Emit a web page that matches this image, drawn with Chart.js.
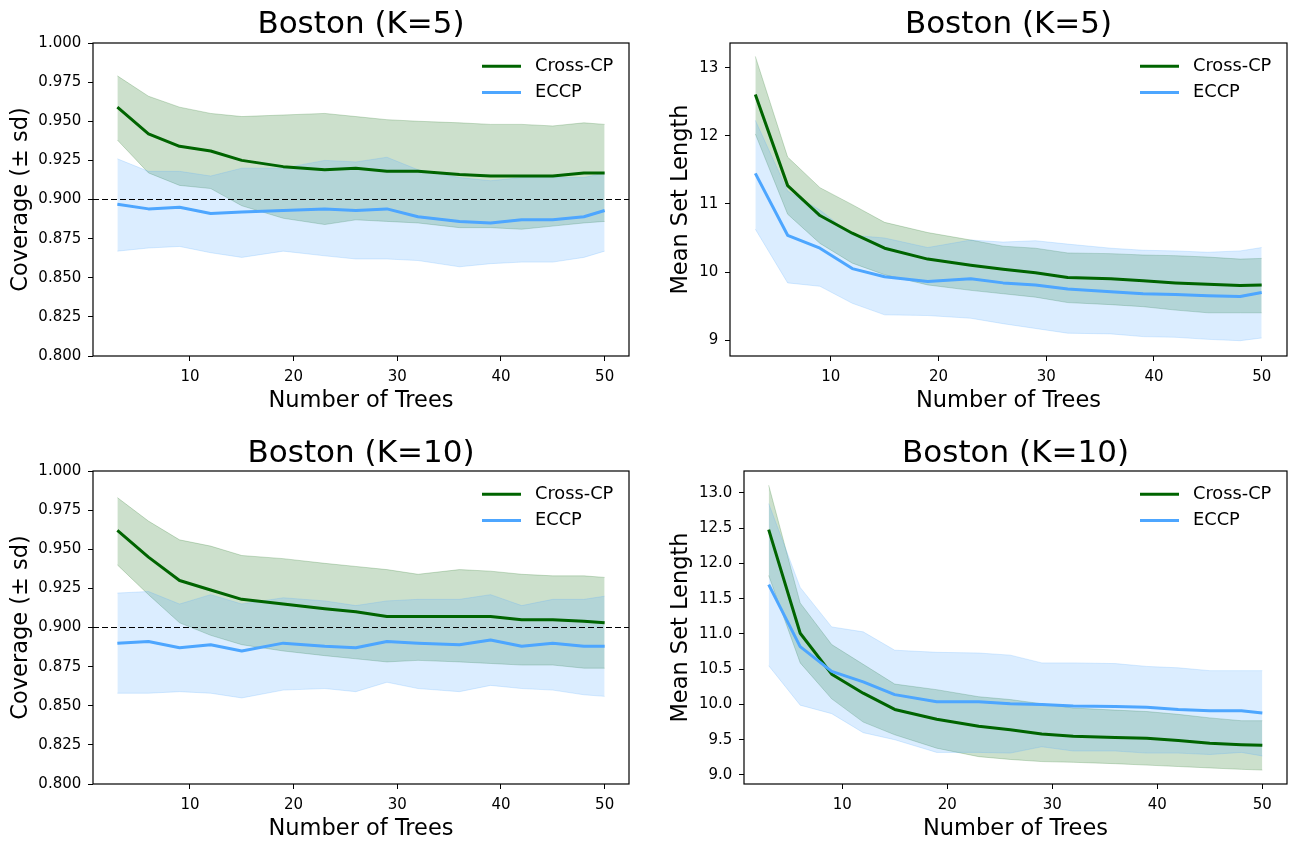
<!DOCTYPE html>
<html>
<head>
<meta charset="utf-8">
<script src="https://cdn.jsdelivr.net/npm/chart.js@4.4.0/dist/chart.umd.min.js"></script>
<style>
  html, body { margin: 0; padding: 0; background: #fff; overflow: hidden; }
  #fig { position: relative; width: 1291px; height: 841px; }
  #fig canvas { position: absolute; }
</style>
</head>
<body>
<div id="fig">
  <canvas id="k5cov" width="645" height="420" style="left:0;top:0"></canvas>
  <canvas id="k5len" width="646" height="420" style="left:645px;top:0"></canvas>
  <canvas id="k10cov" width="645" height="421" style="left:0;top:420px"></canvas>
  <canvas id="k10len" width="646" height="421" style="left:645px;top:420px"></canvas>
</div>
<script>
// number of trees in the forest
const trees = [3, 6, 9, 12, 15, 19, 23, 26, 29, 32, 36, 39, 42, 45, 48, 50];
const xTicks = [10, 20, 30, 40, 50];
const coverageTicks = [0.8, 0.825, 0.85, 0.875, 0.9, 0.925, 0.95, 0.975, 1.0];
const lengthTicksK5 = [9, 10, 11, 12, 13];
const lengthTicksK10 = [9.0, 9.5, 10.0, 10.5, 11.0, 11.5, 12.0, 12.5, 13.0];
const targetCoverage = 0.9;

// K=5 coverage (mean, mean - sd, mean + sd)
const k5CovCross = [0.959, 0.942, 0.934, 0.931, 0.925, 0.921, 0.919, 0.920, 0.918, 0.918, 0.916, 0.915, 0.915, 0.915, 0.917, 0.917];
const k5CovCrossLo = [0.938, 0.917, 0.909, 0.907, 0.896, 0.888, 0.884, 0.887, 0.886, 0.885, 0.882, 0.882, 0.881, 0.883, 0.885, 0.886];
const k5CovCrossHi = [0.979, 0.966, 0.959, 0.955, 0.953, 0.954, 0.955, 0.953, 0.951, 0.950, 0.949, 0.948, 0.948, 0.947, 0.949, 0.948];
const k5CovEccp = [0.897, 0.894, 0.895, 0.891, 0.892, 0.893, 0.894, 0.893, 0.894, 0.889, 0.886, 0.885, 0.887, 0.887, 0.889, 0.893];
const k5CovEccpLo = [0.867, 0.869, 0.870, 0.866, 0.863, 0.867, 0.864, 0.862, 0.862, 0.861, 0.857, 0.859, 0.860, 0.860, 0.863, 0.867];
const k5CovEccpHi = [0.926, 0.918, 0.918, 0.915, 0.920, 0.920, 0.925, 0.924, 0.927, 0.919, 0.914, 0.912, 0.914, 0.914, 0.914, 0.917];

// K=5 mean set length
const k5LenCross = [12.61, 11.27, 10.83, 10.57, 10.35, 10.19, 10.10, 10.04, 9.99, 9.92, 9.90, 9.87, 9.84, 9.82, 9.80, 9.81];
const k5LenCrossLo = [12.03, 10.85, 10.42, 10.13, 9.96, 9.81, 9.73, 9.68, 9.63, 9.55, 9.52, 9.49, 9.44, 9.40, 9.40, 9.40];
const k5LenCrossHi = [13.17, 11.69, 11.24, 10.99, 10.73, 10.58, 10.47, 10.38, 10.35, 10.28, 10.27, 10.25, 10.24, 10.22, 10.19, 10.20];
const k5LenEccp = [11.45, 10.54, 10.35, 10.05, 9.93, 9.86, 9.90, 9.84, 9.81, 9.75, 9.71, 9.68, 9.67, 9.65, 9.64, 9.70];
const k5LenEccpLo = [10.63, 9.84, 9.79, 9.54, 9.37, 9.36, 9.32, 9.24, 9.17, 9.10, 9.09, 9.05, 9.04, 9.01, 8.99, 9.03];
const k5LenEccpHi = [12.23, 11.19, 10.91, 10.54, 10.50, 10.36, 10.47, 10.44, 10.46, 10.41, 10.35, 10.32, 10.31, 10.29, 10.31, 10.36];

// K=10 coverage
const k10CovCross = [0.962, 0.945, 0.930, 0.924, 0.918, 0.915, 0.912, 0.910, 0.907, 0.907, 0.907, 0.907, 0.905, 0.905, 0.904, 0.903];
const k10CovCrossLo = [0.940, 0.921, 0.903, 0.895, 0.889, 0.885, 0.882, 0.880, 0.878, 0.879, 0.878, 0.877, 0.876, 0.876, 0.874, 0.874];
const k10CovCrossHi = [0.983, 0.968, 0.956, 0.952, 0.946, 0.944, 0.941, 0.939, 0.937, 0.934, 0.937, 0.936, 0.934, 0.933, 0.933, 0.932];
const k10CovEccp = [0.890, 0.891, 0.887, 0.889, 0.885, 0.890, 0.888, 0.887, 0.891, 0.890, 0.889, 0.892, 0.888, 0.890, 0.888, 0.888];
const k10CovEccpLo = [0.858, 0.858, 0.859, 0.858, 0.855, 0.860, 0.861, 0.859, 0.865, 0.861, 0.859, 0.863, 0.861, 0.860, 0.857, 0.856];
const k10CovEccpHi = [0.922, 0.923, 0.915, 0.921, 0.915, 0.919, 0.917, 0.914, 0.917, 0.918, 0.918, 0.921, 0.914, 0.918, 0.918, 0.920];

// K=10 mean set length
const k10LenCross = [12.48, 11.01, 10.43, 10.16, 9.93, 9.79, 9.69, 9.64, 9.58, 9.55, 9.53, 9.52, 9.49, 9.45, 9.43, 9.42];
const k10LenCrossLo = [11.83, 10.59, 10.08, 9.75, 9.57, 9.38, 9.26, 9.22, 9.19, 9.18, 9.16, 9.14, 9.12, 9.10, 9.08, 9.07];
const k10LenCrossHi = [13.11, 11.44, 10.85, 10.57, 10.29, 10.21, 10.11, 10.07, 10.01, 9.95, 9.92, 9.90, 9.86, 9.81, 9.77, 9.77];
const k10LenEccp = [11.70, 10.82, 10.47, 10.32, 10.14, 10.04, 10.04, 10.01, 10.00, 9.98, 9.97, 9.96, 9.93, 9.91, 9.91, 9.88];
const k10LenEccpLo = [10.55, 9.99, 9.87, 9.60, 9.50, 9.32, 9.32, 9.31, 9.40, 9.34, 9.34, 9.31, 9.31, 9.29, 9.32, 9.27];
const k10LenEccpHi = [12.85, 11.66, 11.10, 11.03, 10.77, 10.74, 10.73, 10.70, 10.59, 10.59, 10.58, 10.54, 10.52, 10.48, 10.48, 10.48];

const GREEN = '#006400';
const GREEN_FILL = 'rgba(0, 100, 0, 0.2)';
const BLUE = 'rgb(77, 166, 255)';
const BLUE_FILL = 'rgba(77, 166, 255, 0.2)';
const X_MIN = 0.65, X_MAX = 52.35;

Chart.defaults.font.family = "'DejaVu Sans', sans-serif";
Chart.defaults.color = '#000';

const pts = arr => trees.map((t, i) => ({ x: t, y: arr[i] }));

// legend drawn inside the upper right corner of the axes
const insideLegend = {
  id: 'insideLegend',
  afterDatasetsDraw(chart) {
    const { ctx, chartArea } = chart;
    const items = chart.data.datasets.filter(d => d.label);
    ctx.save();
    ctx.font = '17.8px "DejaVu Sans"';
    ctx.textBaseline = 'middle';
    ctx.textAlign = 'left';
    ctx.fillStyle = '#000';
    items.forEach((d, i) => {
      const y = chartArea.top + 23.3 + i * 26.3;
      ctx.strokeStyle = d.borderColor;
      ctx.lineWidth = d.borderWidth;
      ctx.beginPath();
      ctx.moveTo(chartArea.right - 147, y);
      ctx.lineTo(chartArea.right - 108, y);
      ctx.stroke();
      ctx.fillText(d.label, chartArea.right - 94, y);
    });
    ctx.restore();
  }
};

// box around the axes
const frame = {
  id: 'frame',
  afterDraw(chart) {
    const { ctx, chartArea: a } = chart;
    ctx.save();
    ctx.strokeStyle = '#000';
    ctx.lineWidth = 1.2;
    ctx.strokeRect(a.left, a.top, a.right - a.left, a.bottom - a.top);
    ctx.restore();
  }
};

function band(lo, hi, color, order) {
  return [
    { data: pts(hi), borderColor: color, backgroundColor: color, borderWidth: 1, fill: '+1', pointRadius: 0, order },
    { data: pts(lo), borderColor: color, borderWidth: 1, fill: false, pointRadius: 0, order }
  ];
}

function meanLine(label, values, color, order) {
  return { label, data: pts(values), borderColor: color, borderWidth: 3, borderJoinStyle: 'round',
           fill: false, pointRadius: 0, order };
}

function makePanel(id, p) {
  const datasets = [
    ...band(p.crossLo, p.crossHi, GREEN_FILL, 6),
    ...band(p.eccpLo, p.eccpHi, BLUE_FILL, 5),
    meanLine('Cross-CP', p.cross, GREEN, 3),
    meanLine('ECCP', p.eccp, BLUE, 2)
  ];
  if (p.target !== undefined) {
    datasets.push({ data: [{ x: X_MIN, y: p.target }, { x: X_MAX, y: p.target }], borderColor: '#000',
                    borderWidth: 1.2, borderDash: [6, 3], fill: false, pointRadius: 0, order: 1 });
  }
  const tickGrid = { drawOnChartArea: false, tickLength: 5, color: '#000', lineWidth: 1 };
  return new Chart(document.getElementById(id), {
    type: 'line',
    data: { datasets },
    options: {
      responsive: false,
      animation: false,
      devicePixelRatio: 1,
      events: [],
      layout: { padding: { left: 0, top: 0, right: p.padRight, bottom: 0 } },
      plugins: {
        legend: { display: false },
        tooltip: { enabled: false },
        title: {
          display: true, text: p.title, fullSize: false, color: '#000',
          font: { size: 31, weight: 'normal', lineHeight: 1.1 },
          padding: p.titlePad
        }
      },
      scales: {
        x: {
          type: 'linear', min: X_MIN, max: X_MAX,
          afterBuildTicks: s => { s.ticks = xTicks.map(v => ({ value: v })); },
          afterFit: s => { s.height = p.xAxisHeight; },
          grid: tickGrid,
          border: { display: false },
          ticks: { font: { size: 15 }, padding: 7, maxRotation: 0, autoSkip: false, callback: v => String(v) },
          title: { display: true, text: 'Number of Trees', font: { size: 22.5, lineHeight: 1 },
                   padding: { top: 0, bottom: p.xTitlePad } }
        },
        y: {
          type: 'linear', min: p.yMin, max: p.yMax,
          afterBuildTicks: s => { s.ticks = p.yTicks.map(v => ({ value: v })); },
          afterFit: s => { s.width = p.yAxisWidth; },
          grid: tickGrid,
          border: { display: false },
          ticks: { font: { size: 15 }, padding: 6.7, autoSkip: false, callback: v => v.toFixed(p.yDecimals) },
          title: { display: true, text: p.yLabel, font: { size: 22.5, lineHeight: 1 },
                   padding: { top: p.yTitlePad, bottom: 0 } }
        }
      }
    },
    plugins: [insideLegend, frame]
  });
}

makePanel('k5cov', {
  title: 'Boston (K=5)', yLabel: 'Coverage (\u00b1 sd)',
  yMin: 0.8, yMax: 1.0, yTicks: coverageTicks, yDecimals: 3, target: targetCoverage,
  cross: k5CovCross, crossLo: k5CovCrossLo, crossHi: k5CovCrossHi,
  eccp: k5CovEccp, eccpLo: k5CovEccpLo, eccpHi: k5CovEccpHi,
  padRight: 16, yAxisWidth: 93, xAxisHeight: 64, titlePad: { top: 7.45, bottom: 1.45 },
  xTitlePad: 7.75, yTitlePad: 9.75
});

makePanel('k5len', {
  title: 'Boston (K=5)', yLabel: 'Mean Set Length',
  yMin: 8.765, yMax: 13.367, yTicks: lengthTicksK5, yDecimals: 0,
  cross: k5LenCross, crossLo: k5LenCrossLo, crossHi: k5LenCrossHi,
  eccp: k5LenEccp, eccpLo: k5LenEccpLo, eccpHi: k5LenEccpHi,
  padRight: 4, yAxisWidth: 85, xAxisHeight: 64, titlePad: { top: 7.45, bottom: 1.45 },
  xTitlePad: 7.75, yTitlePad: 24.75
});

makePanel('k10cov', {
  title: 'Boston (K=10)', yLabel: 'Coverage (\u00b1 sd)',
  yMin: 0.8, yMax: 1.0, yTicks: coverageTicks, yDecimals: 3, target: targetCoverage,
  cross: k10CovCross, crossLo: k10CovCrossLo, crossHi: k10CovCrossHi,
  eccp: k10CovEccp, eccpLo: k10CovEccpLo, eccpHi: k10CovEccpHi,
  padRight: 16, yAxisWidth: 93, xAxisHeight: 57, titlePad: { top: 16.45, bottom: 0.45 },
  xTitlePad: 0.75, yTitlePad: 9.75
});

makePanel('k10len', {
  title: 'Boston (K=10)', yLabel: 'Mean Set Length',
  yMin: 8.872, yMax: 13.312, yTicks: lengthTicksK10, yDecimals: 1,
  cross: k10LenCross, crossLo: k10LenCrossLo, crossHi: k10LenCrossHi,
  eccp: k10LenEccp, eccpLo: k10LenEccpLo, eccpHi: k10LenEccpHi,
  padRight: 4, yAxisWidth: 99, xAxisHeight: 57, titlePad: { top: 16.45, bottom: 0.45 },
  xTitlePad: 0.75, yTitlePad: 24.75
});
</script>
</body>
</html>
